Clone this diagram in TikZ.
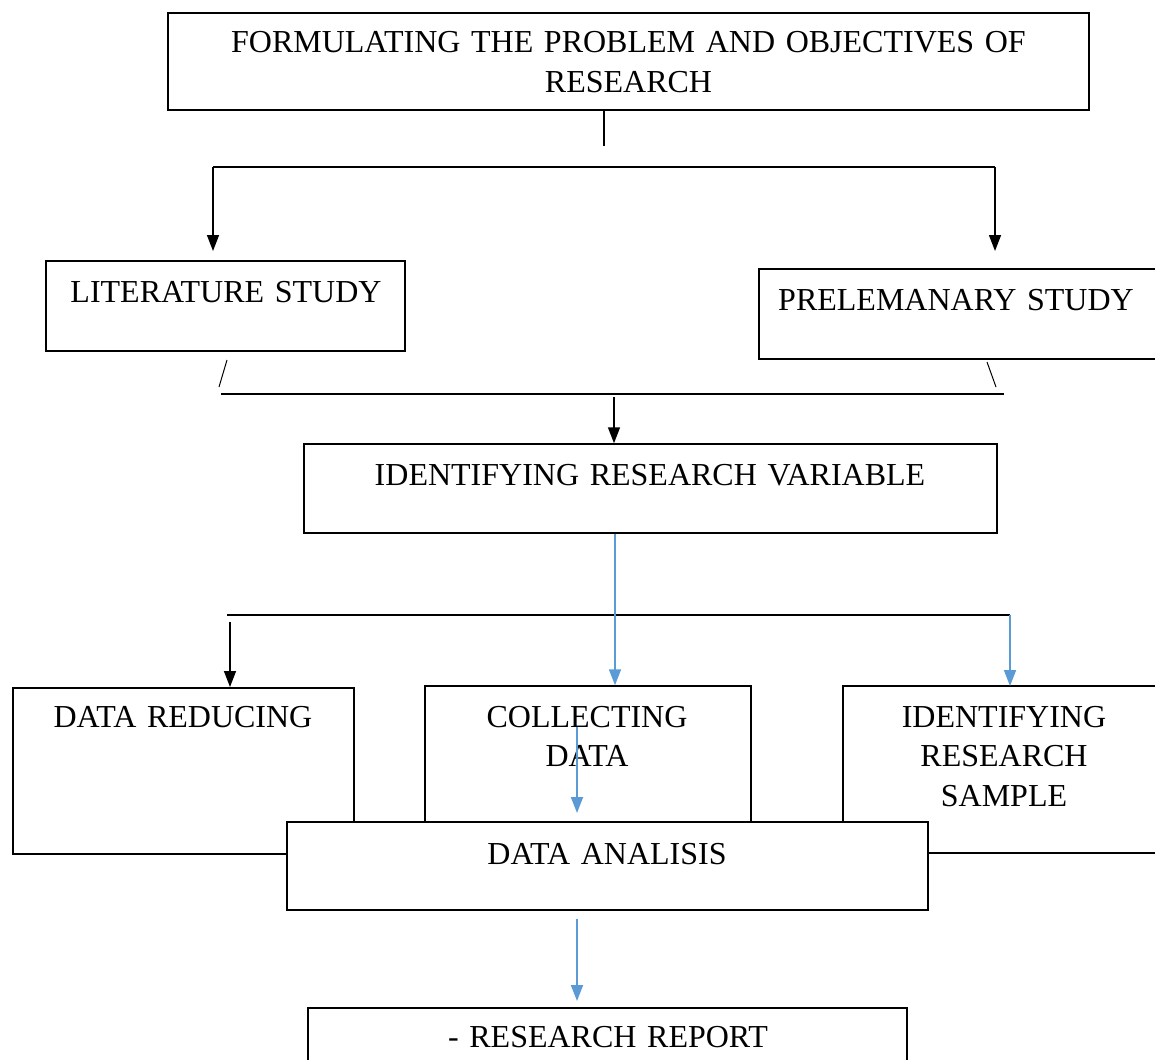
\documentclass[tikz,border=0pt]{standalone}
\usepackage{fontspec}
\setmainfont{Liberation Serif}
\usetikzlibrary{arrows.meta}
\definecolor{arrowblue}{RGB}{91,155,213}
\begin{document}
\begin{tikzpicture}[x=1pt,y=-1pt,
  box/.style={draw=black,line width=1.5pt,fill=white,rectangle,inner sep=0pt},
  txt/.style={font=\fontsize{32}{39.5}\selectfont,align=center,anchor=base,inner sep=0pt,text width=#1},
  txt/.default=400pt,
  blk/.style={draw=black,line width=1.5pt},
  blkarrow/.style={draw=black,line width=1.5pt,-{Triangle[width=12pt,length=16pt]}},
  bluearrow/.style={draw=arrowblue,line width=1.8pt,-{Triangle[width=12pt,length=16pt]}},
  thin/.style={draw=black,line width=1pt}]
\useasboundingbox (0,0) rectangle (1155,1059);
% boxes
\node[box,minimum width=921pt,minimum height=97pt] (top) at (628.5,61.5) {};
\node[box,minimum width=359pt,minimum height=90pt] (lit) at (225.5,306) {};
\node[box,minimum width=400pt,minimum height=90pt] (prel) at (959,314) {};
\node[box,minimum width=693pt,minimum height=89pt] (irv) at (650.5,488.5) {};
\node[box,minimum width=341pt,minimum height=166pt] (dr) at (183.5,771) {};
\node[box,minimum width=326pt,minimum height=174pt] (col) at (588,773) {};
\node[box,minimum width=320pt,minimum height=167pt] (irs) at (1003,769.5) {};
\node[box,minimum width=641pt,minimum height=88pt] (da) at (607.5,866) {};
\node[box,minimum width=599pt,minimum height=70pt] (rr) at (607.5,1043) {};
% texts
\node[txt=900pt] (toptxt) at (628.5,53) {FORMULATING THE PROBLEM AND OBJECTIVES OF\\RESEARCH};
\node[txt] (littxt) at (226,302) {LITERATURE STUDY};
\node[txt] (preltxt) at (956,310) {PRELEMANARY STUDY};
\node[txt=680pt] (irvtxt) at (650,485) {IDENTIFYING RESEARCH VARIABLE};
\node[txt=330pt] (drtxt) at (183,727) {DATA REDUCING};
\node[txt=300pt] (coltxt) at (587,727) {COLLECTING\\DATA};
\node[txt=300pt] (irstxt) at (1004,727) {IDENTIFYING\\RESEARCH\\SAMPLE};
\node[txt] (datxt) at (607,864) {DATA ANALISIS};
\node[txt] (rrtxt) at (608,1047) {- RESEARCH REPORT};
% coordinates for connectors
\coordinate (t1) at (604,146);
\coordinate (h1l) at (213,167);
\coordinate (h1r) at (995,167);
\coordinate (a1l) at (213,251);
\coordinate (a1r) at (995,251);
\coordinate (s1a) at (227,360);
\coordinate (s1b) at (219,387);
\coordinate (s2a) at (987,362);
\coordinate (s2b) at (996,387);
\coordinate (h2l) at (221,394);
\coordinate (h2r) at (1004,394);
\coordinate (a2s) at (614,397);
\coordinate (h3l) at (227,615);
\coordinate (h3r) at (1010,615);
\coordinate (a3s) at (230,622);
\coordinate (a3e) at (230,687);
\coordinate (a4e) at (1010,686);
\coordinate (a5s) at (577,727);
\coordinate (a5e) at (577,813);
\coordinate (a6s) at (577,919);
\coordinate (a6e) at (577,1001);
% connectors
\draw[blk] (top.south -| t1) -- (t1);
\draw[blk] (h1l) -- (h1r);
\draw[blkarrow] (h1l) -- (a1l);
\draw[blkarrow] (h1r) -- (a1r);
\draw[thin] (s1a) -- (s1b);
\draw[thin] (s2a) -- (s2b);
\draw[blk] (h2l) -- (h2r);
\draw[blkarrow] (a2s) -- (irv.north -| a2s);
\draw[blk] (h3l) -- (h3r);
\draw[bluearrow] (irv.south -| 615,0) -- (col.north -| 615,0);
\draw[blkarrow] (a3s) -- (a3e);
\draw[bluearrow] (h3r) -- (a4e);
\draw[bluearrow] (a5s) -- (a5e);
\draw[bluearrow] (a6s) -- (a6e);
\end{tikzpicture}
\end{document}
